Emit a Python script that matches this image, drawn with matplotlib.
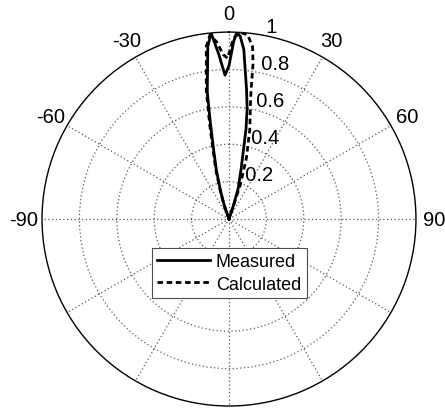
import numpy as np
import matplotlib
matplotlib.use("Agg")
from matplotlib import pyplot as plt

plt.rcParams['font.family'] = ['Liberation Sans', 'DejaVu Sans']

# Radiation pattern, angle in degrees (0 = boresight), normalised amplitude
meas_deg = [-23, -19, -16.7, -14.5, -12.5, -11, -9.7, -7, -5.5, -3.5, -1.6, 0,
            1.5, 2.4, 3.5, 5, 7.7, 9.3, 10.7, 13.5, 16.7, 18, 22]
meas_r = [0, 0.08, 0.16, 0.27, 0.38, 0.52, 0.69, 0.93, 1.0, 0.88, 0.77, 0.82,
          0.95, 1.0, 0.98, 0.91, 0.70, 0.60, 0.49, 0.28, 0.17, 0.085, 0]

calc_deg = [-23, -19.5, -17, -15, -13, -11.5, -10, -7.5, -5.9, -4, -2, -0.5,
            1.5, 3.5, 5.8, 7.8, 8.8, 9.8, 10.8, 13.1, 15.9, 18.4, 22]
calc_r = [0, 0.08, 0.16, 0.27, 0.38, 0.52, 0.70, 0.93, 0.99, 0.95, 0.88, 0.86,
          0.97, 1.0, 0.99, 0.93, 0.84, 0.69, 0.61, 0.49, 0.34, 0.19, 0]

ring_vals = [0.2, 0.4, 0.6, 0.8, 1]
ring_labels = ['0.2', '0.4', '0.6', '0.8', '1']
angle_ticks = [-90, -60, -30, 0, 30, 60, 90]
angle_labels = ['-90', '-60', '-30', '0', '30', '60', '90']

fig = plt.figure(figsize=(4.45, 4.10), dpi=100)
ax = fig.add_axes([0.0944, 0.0073, 0.8404, 0.912], projection='polar')
ax.set_theta_zero_location('N')
ax.set_theta_direction(-1)
ax.set_ylim(0, 1)

# dotted MATLAB-style grid
ax.set_thetagrids(np.arange(0, 360, 30), labels=[''] * 12)
ax.set_rgrids(ring_vals[:-1], labels=[''] * 4)
ax.grid(True, color='0.35', linestyle=(0, (1, 2)), linewidth=0.9)
ax.spines['polar'].set_color('black')
ax.spines['polar'].set_linewidth(1.0)
ax.tick_params(length=0)

ax.plot(np.deg2rad(meas_deg), meas_r, color='black', linewidth=2.0,
        label='Measured')
ax.plot(np.deg2rad(calc_deg), calc_r, color='black', linewidth=2.0,
        linestyle=(0, (2.0, 1.3)), label='Calculated')

# radial labels along the 8 degree line
for v, lab in zip(ring_vals, ring_labels):
    ax.text(np.deg2rad(8), v + 0.01, '  ' + lab, ha='left', va='baseline',
            fontsize=14.5, clip_on=False)

# angle labels outside the rim
for a, lab in zip(angle_ticks, angle_labels):
    ax.text(np.deg2rad(a), 1.1, lab, ha='center', va='center',
            fontsize=14.5, clip_on=False)

leg = ax.legend(loc='center', bbox_to_anchor=(0.515, 0.332),
                bbox_transform=fig.transFigure, fontsize=13,
                fancybox=False, framealpha=1, edgecolor='0.3',
                handlelength=2.9, borderpad=0.3, labelspacing=0.3,
                handletextpad=0.35, borderaxespad=0)
leg.get_frame().set_linewidth(0.8)

fig.savefig('out.png', dpi=100)
